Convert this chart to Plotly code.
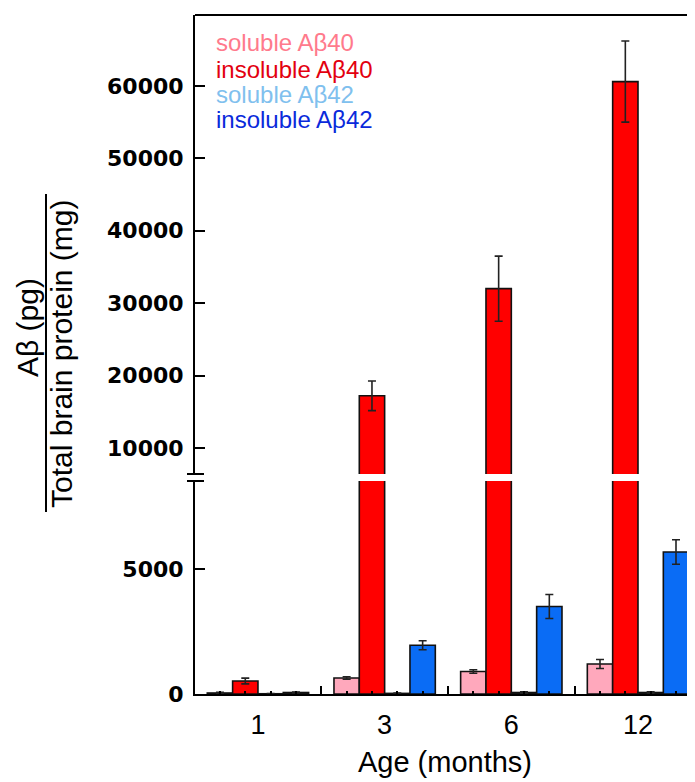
import plotly.graph_objects as go

ages = ["1", "3", "6", "12"]
series_names = ["soluble Aβ40", "insoluble Aβ40", "soluble Aβ42", "insoluble Aβ42"]
soluble_ab40 = [40, 640, 900, 1200]
soluble_ab40_err = [30, 50, 70, 180]
insoluble_ab40 = [520, 17200, 32000, 60600]
insoluble_ab40_err = [115, 2050, 4500, 5600]
soluble_ab42 = [10, 25, 60, 60]
soluble_ab42_err = [5, 10, 30, 30]
insoluble_ab42 = [60, 1950, 3500, 5680]
insoluble_ab42_err = [15, 180, 480, 490]
upper_ticks = [10000, 20000, 30000, 40000, 50000, 60000]
lower_ticks = [0, 5000]

values = [soluble_ab40, insoluble_ab40, soluble_ab42, insoluble_ab42]
errors = [soluble_ab40_err, insoluble_ab40_err, soluble_ab42_err, insoluble_ab42_err]
bar_colors = ["#FFA8BC", "#FF0000", "#A8D2EE", "#0A6CF5"]
text_colors = ["#FF7A8C", "#E3000F", "#80C0EE", "#0A2ADB"]
offsets = [-0.3, -0.1, 0.1, 0.3]
bw = 0.2

# page body has an 8px margin; size the figure so it ends at the window edge
OFF = 8
REF_W, REF_H = 695, 782
REF_L, REF_T, REF_B = 195, 15, 694   # plot area edges in window pixels
W, H = REF_W - OFF, REF_H - OFF
ML, MT, MR = REF_L - OFF, REF_T - OFF, 0
MB = REF_H - REF_B
PW, PH = REF_W - REF_L, REF_B - REF_T


def px_x(p):
    return (p - REF_L) / PW


def px_y(p):
    return (REF_B - p) / PH


lower_top = px_y(481)
upper_bot = px_y(474)

fig = go.Figure()
for yax in ["y", "y2"]:
    for name, vals, errs, col, off in zip(series_names, values, errors, bar_colors, offsets):
        fig.add_trace(go.Bar(
            x=[i + off for i in range(len(ages))],
            y=vals,
            width=bw,
            name=name,
            marker=dict(color=col, line=dict(color="#111111", width=1.6)),
            error_y=dict(type="data", array=errs, visible=True, color="#222222",
                         thickness=1.6, width=4),
            xaxis="x", yaxis=yax, showlegend=False,
        ))

xr = [-0.497, 3.45]
group_centers = list(range(len(ages)))
bar_centers = [i + o for i in group_centers for o in offsets]
boundaries = [i + 0.5 for i in group_centers[:-1]]

tick_font = dict(size=22, family="DejaVu Sans", weight="bold", color="black")

fig.update_layout(
    width=W, height=H,
    margin=dict(l=ML, r=MR, t=MT, b=MB, autoexpand=False),
    plot_bgcolor="white", paper_bgcolor="white",
    barmode="overlay",
    font=dict(family="Liberation Sans, Arial, sans-serif", color="black"),
    xaxis=dict(
        range=xr, anchor="y", showline=True, linecolor="black", linewidth=2,
        showgrid=False, zeroline=False,
        tickmode="array", tickvals=group_centers, ticktext=ages,
        ticks="inside", ticklen=0, tickcolor="rgba(0,0,0,0)",
        tickfont=dict(size=27, family="Liberation Sans, Arial, sans-serif"),
        ticklabelstandoff=6,
        minor=dict(tickmode="array", tickvals=bar_centers, ticks="inside",
                   ticklen=3, tickwidth=1.5, tickcolor="black", showgrid=False),
        title=dict(text="Age (months)", font=dict(size=29), standoff=12),
        automargin=False,
    ),
    xaxis3=dict(
        range=xr, overlaying="x", anchor="y", side="bottom",
        showline=False, showgrid=False, zeroline=False,
        tickmode="array", tickvals=boundaries, ticks="inside", ticklen=8,
        tickwidth=1.5, tickcolor="black", showticklabels=False,
    ),
    yaxis=dict(
        domain=[0, lower_top], range=[0, 8520], anchor="x",
        showline=True, linecolor="black", linewidth=2, showgrid=False, zeroline=False,
        tickmode="array", tickvals=lower_ticks, ticktext=[str(v) for v in lower_ticks],
        ticks="inside", ticklen=10, tickwidth=1.5, tickcolor="black",
        tickfont=tick_font, ticklabelstandoff=5, automargin=False,
    ),
    yaxis2=dict(
        domain=[upper_bot, 1], range=[6400, 69800], anchor="x",
        showline=True, linecolor="black", linewidth=2, showgrid=False, zeroline=False,
        tickmode="array", tickvals=upper_ticks, ticktext=[str(v) for v in upper_ticks],
        ticks="inside", ticklen=10, tickwidth=1.5, tickcolor="black",
        tickfont=tick_font, ticklabelstandoff=5, automargin=False,
    ),
)

# invisible trace so the overlay tick axis is drawn
fig.add_trace(go.Scatter(x=[xr[0]], y=[0], xaxis="x3", yaxis="y", mode="markers",
                         marker=dict(opacity=0), showlegend=False, hoverinfo="skip"))

shapes = [
    dict(type="line", xref="paper", yref="paper", x0=0, x1=1, y0=1, y1=1,
         line=dict(color="black", width=2)),
    dict(type="line", xref="paper", yref="paper", x0=px_x(187), x1=px_x(204),
         y0=upper_bot, y1=upper_bot, line=dict(color="black", width=2)),
    dict(type="line", xref="paper", yref="paper", x0=px_x(187), x1=px_x(204),
         y0=lower_top, y1=lower_top, line=dict(color="black", width=2)),
    dict(type="line", xref="paper", yref="paper", x0=px_x(689), x1=1,
         y0=px_y(473), y1=px_y(473), line=dict(color="black", width=2)),
    dict(type="line", xref="paper", yref="paper", x0=px_x(689), x1=1,
         y0=px_y(479), y1=px_y(479), line=dict(color="black", width=2)),
    dict(type="line", xref="paper", yref="paper", x0=px_x(46), x1=px_x(46),
         y0=px_y(512), y1=px_y(194), line=dict(color="black", width=2)),
]
fig.update_layout(shapes=shapes)

annotations = [
    dict(text="Aβ (pg)", xref="paper", yref="paper", x=px_x(27), y=px_y(328),
         textangle=-90, showarrow=False, xanchor="center", yanchor="middle",
         font=dict(size=30, family="Liberation Sans, Arial, sans-serif")),
    dict(text="Total brain protein (mg)", xref="paper", yref="paper", x=px_x(61), y=px_y(354),
         textangle=-90, showarrow=False, xanchor="center", yanchor="middle",
         font=dict(size=30, family="Liberation Sans, Arial, sans-serif")),
]
legend_y = [43, 69, 94, 119]
for name, col, yy in zip(series_names, text_colors, legend_y):
    annotations.append(dict(text=name, xref="paper", yref="paper", x=px_x(214), y=px_y(yy),
                            showarrow=False, xanchor="left", yanchor="middle",
                            font=dict(size=24, color=col,
                                      family="Liberation Sans, Arial, sans-serif")))
fig.update_layout(annotations=annotations)

fig.write_html("out.html")
